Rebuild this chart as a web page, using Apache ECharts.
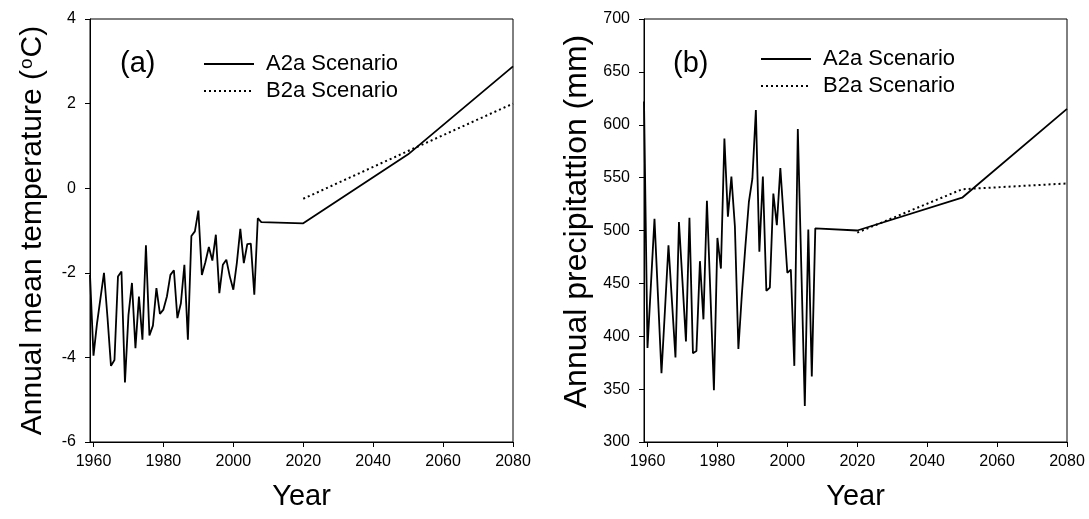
<!DOCTYPE html>
<html><head><meta charset="utf-8">
<script src="https://cdn.jsdelivr.net/npm/echarts@6/dist/echarts.min.js"></script>
<style>html,body{margin:0;padding:0;background:#fff}#c{width:1089px;height:519px}</style>
</head><body><div id="c"></div>
<script>
const histYears = [1959,1960,1961,1962,1963,1964,1965,1966,1967,1968,1969,1970,1971,1972,1973,1974,1975,1976,1977,1978,1979,1980,1981,1982,1983,1984,1985,1986,1987,1988,1989,1990,1991,1992,1993,1994,1995,1996,1997,1998,1999,2000,2001,2002,2003,2004,2005,2006,2007,2008];
const histTemp = [-2.05,-3.96,-3.2,-2.6,-2.0,-3.05,-4.2,-4.06,-2.09,-1.97,-4.59,-3.0,-2.24,-3.78,-2.56,-3.58,-1.35,-3.48,-3.25,-2.36,-2.97,-2.87,-2.56,-2.05,-1.94,-3.07,-2.72,-1.81,-3.58,-1.13,-1.02,-0.53,-2.05,-1.75,-1.39,-1.71,-1.1,-2.48,-1.81,-1.69,-2.09,-2.4,-1.77,-0.96,-1.77,-1.32,-1.31,-2.52,-0.71,-0.8];
const histPrecip = [622,389,450,511,438,365,425,486,433,380,508,452,395,512,384,386,471,416,528,440,349,493,464,587,513,551,504,388,440,485,527,549,614,480,551,443,446,535,505,559,510,460,463,372,596,465,334,501,362,502];
const projYears = [2020,2050,2080];
const tempA2a = [-0.83,0.80,2.88];
const tempB2a = [-0.25,0.88,2.00];
const precipA2a = [500,531,615];
const precipB2a = [498,539,544.5];
const xTicks = [1960,1980,2000,2020,2040,2060,2080];
const tempTicks = [-6,-4,-2,0,2,4];
const precipTicks = [300,350,400,450,500,550,600,650,700];

const FF = '"Liberation Sans", Arial, sans-serif';
const pairs = (xs, ys) => xs.map((x, i) => [x, ys[i]]);
const a2aTemp = pairs(histYears, histTemp).concat(pairs(projYears, tempA2a));
const b2aTemp = pairs(projYears, tempB2a);
const a2aPrec = pairs(histYears, histPrecip).concat(pairs(projYears, precipA2a));
const b2aPrec = pairs(projYears, precipB2a);

function xAxisCfg(gi) {
  return {
    type: 'value', gridIndex: gi, min: 1959, max: 2080,
    axisLine: { show: true, onZero: false, lineStyle: { color: '#000', width: 1 } },
    axisTick: { show: true, length: 5, customValues: xTicks, lineStyle: { color: '#000' } },
    axisLabel: { customValues: xTicks, formatter: v => String(v), fontSize: 16, color: '#000', margin: 12, fontFamily: FF },
    splitLine: { show: false },
    name: 'Year', nameLocation: 'middle', nameGap: 40,
    nameTextStyle: { fontSize: 29, color: '#000', fontFamily: FF }
  };
}
function yAxisCfg(gi, ticks, name, gap, fs, shift) {
  return {
    type: 'value', gridIndex: gi, min: ticks[0], max: ticks[ticks.length - 1],
    interval: ticks[1] - ticks[0],
    axisLine: { show: true, onZero: false, lineStyle: { color: '#000', width: 1 } },
    axisTick: { show: true, length: 5, lineStyle: { color: '#000' } },
    axisLabel: { fontSize: 16, color: '#000', margin: 14, fontFamily: FF },
    splitLine: { show: false },
    name: name, nameLocation: 'middle', nameGap: gap,
    nameTextStyle: { fontSize: fs, color: '#000', fontFamily: FF, padding: [0, 0, 0, shift],
      rich: { s: { fontSize: Math.round(fs * 0.62), verticalAlign: 'top', fontFamily: FF, color: '#000', padding: [0, 1, 12, 1] } } }
  };
}
const solid = { color: '#000', width: 1.8, type: 'solid' };
const dotted = { color: '#000', width: 2, type: [2, 3] };
function lineSeries(name, xi, data, ls) {
  return { name: name, type: 'line', xAxisIndex: xi, yAxisIndex: xi, data: data,
    showSymbol: false, symbol: 'none', lineStyle: ls, itemStyle: { color: '#000' },
    animation: false, z: 3 };
}
function legendCfg(left, top) {
  return {
    left: left, top: top, padding: 0, orient: 'vertical', itemWidth: 50, itemHeight: 14, itemGap: 5,
    selectedMode: false, data: ['A2a Scenario', 'B2a Scenario'],
    itemStyle: { opacity: 0 },
    textStyle: { fontSize: 22, color: '#000', fontFamily: FF, padding: [0, 0, 0, 7] }
  };
}
const chart = echarts.init(document.getElementById('c'), null, { renderer: 'canvas' });
chart.setOption({
  backgroundColor: '#fff',
  animation: false,
  grid: [
    { left: 90, right: 576, top: 19, bottom: 77, show: true, borderColor: '#000', borderWidth: 1, containLabel: false },
    { left: 644, right: 22, top: 19, bottom: 77, show: true, borderColor: '#000', borderWidth: 1, containLabel: false }
  ],
  title: [
    { text: '(a)', left: 120, top: 49, padding: 0, textStyle: { fontSize: 29, fontWeight: 'normal', color: '#000', fontFamily: FF } },
    { text: '(b)', left: 673, top: 49, padding: 0, textStyle: { fontSize: 29, fontWeight: 'normal', color: '#000', fontFamily: FF } }
  ],
  legend: [legendCfg(203, 53), legendCfg(760, 48)],
  xAxis: [xAxisCfg(0), xAxisCfg(1)],
  yAxis: [
    yAxisCfg(0, tempTicks, 'Annual mean temperature ({s|o}C)', 42, 30, 0),
    yAxisCfg(1, precipTicks, 'Annual precipitattion (mm)', 51, 32, 18)
  ],
  series: [
    lineSeries('A2a Scenario', 0, a2aTemp, solid),
    lineSeries('B2a Scenario', 0, b2aTemp, dotted),
    lineSeries('A2a Scenario', 1, a2aPrec, solid),
    lineSeries('B2a Scenario', 1, b2aPrec, dotted)
  ]
});
</script></body></html>
